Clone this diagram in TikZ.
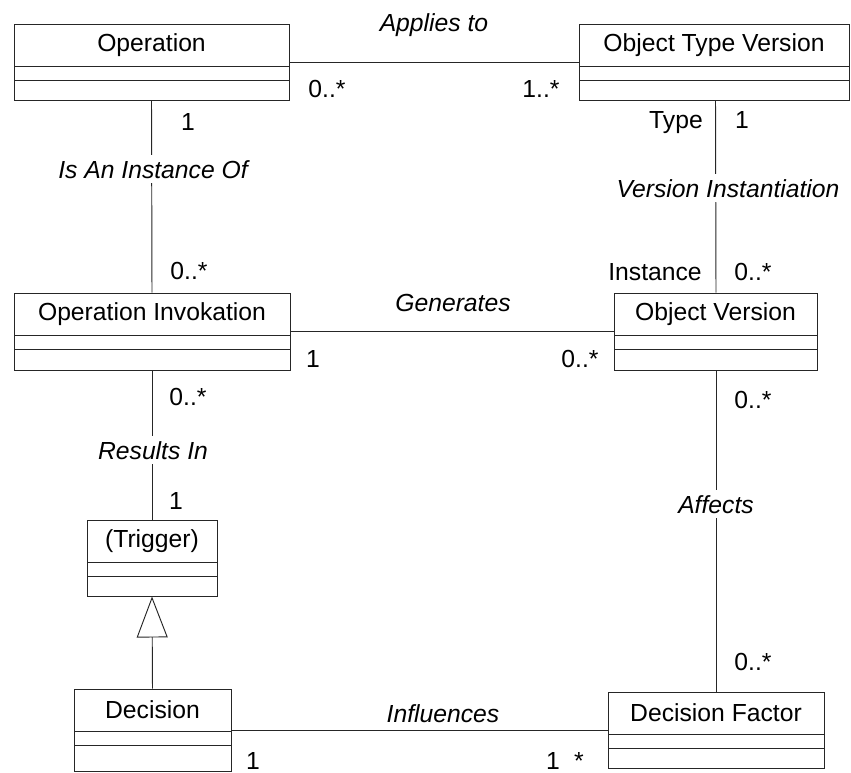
\documentclass[tikz,border=0pt]{standalone}
\usepackage{fontspec}
\setmainfont{Liberation Sans}
\usetikzlibrary{arrows.meta}

\begin{document}
\begin{tikzpicture}[x=1pt,y=-1pt,
  every node/.style={font=\fontsize{24.7}{29}\selectfont},
  umlline/.style={draw=black!85,line width=0.95pt},
  classbox/.style={umlline,fill=white,inner sep=0pt},
  assoc/.style={umlline},
  rolename/.style={anchor=base,inner sep=0pt},
  assocname/.style={anchor=base,inner sep=0pt,font=\fontsize{24.7}{29}\selectfont\itshape},
  onlinename/.style={anchor=base,inner sep=5pt,fill=white,font=\fontsize{24.7}{29}\selectfont\itshape}
]
\useasboundingbox (0,0) rectangle (851,772);

% A UML class: name compartment (42pt) + two empty compartments
% #1 node name, #2 left, #3 top, #4 right, #5 bottom, #6 class name
\newcommand\umlclass[6]{%
  \node[classbox,minimum width={#4-#2},minimum height={#5-#3}] (#1) at ({(#2+#4)/2},{(#3+#5)/2}) {};
  \draw[umlline] (#2,#3+42) -- (#4,#3+42);
  \draw[umlline] (#2,#3+56) -- (#4,#3+56);
  \node (#1-name) at ({(#2+#4)/2},{#3+21}) {#6};
}

\umlclass{op}{14}{24}{289}{100}{Operation}
\umlclass{otv}{579}{24}{849}{100}{Object Type Version}
\umlclass{oi}{14}{293}{290}{370}{Operation Invokation}
\umlclass{ov}{614}{293}{817}{370}{Object Version}
\umlclass{trig}{87}{520}{217}{596}{(Trigger)}
\umlclass{dec}{74}{689}{231}{771}{Decision}
\umlclass{df}{608}{692}{824}{768}{Decision Factor}

% connectors
\draw[assoc] (op.east) -- (otv.west);
\draw[assoc] (oi.east) -- (ov.west);
\draw[assoc] (dec.east) -- (df.west);
\draw[assoc] (op.south) -- (oi.north);
\draw[assoc] ([xshift=1.5pt]otv.south) -- ([xshift=0.5pt]ov.north);
\draw[assoc] ([xshift=0.5pt]ov.south) -- (df.north);
\draw[assoc] (oi.south) -- (trig.north);
\draw[assoc,-{Triangle[open,length=41pt,width=31pt]}] (dec.north) -- (trig.south);

% association names
\node[assocname] (n-applies) at (434,31) {Applies to};
\node[onlinename] (n-instof) at (153,178) {Is An Instance Of};
\node[onlinename] (n-versinst) at (728,197) {Version Instantiation};
\node[assocname] (n-gen) at (453,311) {Generates};
\node[onlinename] (n-results) at (153,459) {Results In};
\node[onlinename] (n-affects) at (716,513) {Affects};
\node[assocname] (n-infl) at (443,722) {Influences};

% multiplicities and roles
\node[rolename] (m1) at (327,97) {0..*};
\node[rolename] (m2) at (541,97) {1..*};
\node[rolename] (m3) at (188,130) {1};
\node[rolename] (r-type) at (676,128) {Type};
\node[rolename] (m4) at (742,128) {1};
\node[rolename] (m5) at (189,279) {0..*};
\node[rolename] (r-inst) at (655,280) {Instance};
\node[rolename] (m6) at (753,280) {0..*};
\node[rolename] (m7) at (313,367) {1};
\node[rolename] (m8) at (580,367) {0..*};
\node[rolename] (m9) at (188,405) {0..*};
\node[rolename] (m10) at (753,408) {0..*};
\node[rolename] (m11) at (176,509) {1};
\node[rolename] (m12) at (753,670) {0..*};
\node[rolename] (m13) at (253,769) {1};
\node[rolename] (m14) at (553,769) {1};
\node[rolename] (m15) at (579,769) {*};
\end{tikzpicture}
\end{document}
